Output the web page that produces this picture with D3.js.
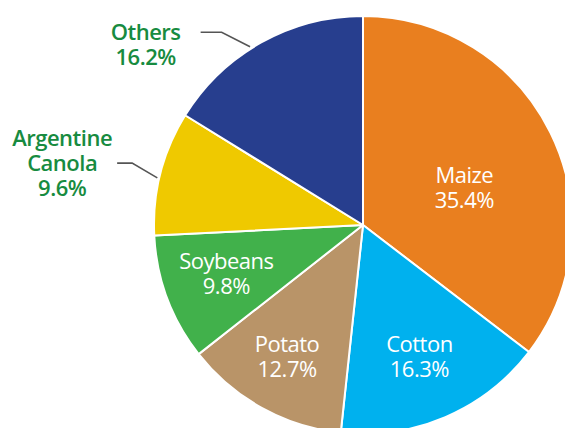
<!DOCTYPE html>
<html>
<head>
<meta charset="utf-8">
<script src="https://cdn.jsdelivr.net/npm/d3@7"></script>
<style>
    html, body { margin: 0; padding: 0; background: #fff; }
    svg { display: block; }
    text { font-family: "Open Sans", "Noto Sans", sans-serif; letter-spacing: -0.5px; }
</style>
</head>
<body>
<svg id="pie-svg" width="565" height="428"></svg>
<script>
// crop names and shares (%), clockwise from 12 o'clock
const crops = ["Maize", "Cotton", "Potato", "Soybeans", "Argentine Canola", "Others"];
const shares = [35.4, 16.3, 12.7, 9.8, 9.6, 16.2];
const shareLabels = ["35.4%", "16.3%", "12.7%", "9.8%", "9.6%", "16.2%"];
const nameLines = [["Maize"], ["Cotton"], ["Potato"], ["Soybeans"], ["Argentine", "Canola"], ["Others"]];
const sliceColors = ["#e97f1f", "#00b1ee", "#b99468", "#41b14b", "#efc900", "#273e8e"];

const SVG_ID = "pie-svg";
const CX = 363, CY = 225, R = 209;
const LINE_H = 25;
const LABEL_GREEN = "#178b40";

// which slices get an outside label with a leader line
const outside = d => d.index >= 4;
// inside label placement: radius + small angle nudge (deg)
const inLabelR = [108, 143, 152, 145];
const inLabelNudge = [6, 0, 1, 1];
// leader lines: angle nudges (deg) for the rim end and the elbow, horizontal run, text y shift
const leaderEnd = { 4: -1.5, 5: -3.2 };
const leaderElbow = { 4: 0.6, 5: -7.1 };
const leaderRun = { 4: 15, 5: 21 };
const leaderTextDy = { 4: 0, 5: 12.5 };

const rad = deg => deg * Math.PI / 180;
const polar = (a, r) => [Math.sin(a) * r, -Math.cos(a) * r];

const data = crops.map((c, i) => ({ name: c, value: shares[i], label: shareLabels[i], lines: nameLines[i], color: sliceColors[i] }));

const pie = d3.pie().sort(null).value(d => d.value);
const arc = d3.arc().innerRadius(0).outerRadius(R);
const arcs = pie(data);

const svg = d3.select(`#${SVG_ID}`);
const g = svg.append("g").attr("transform", `translate(${CX},${CY})`);

// slices
g.selectAll(".slice")
    .data(arcs)
    .enter()
    .append("path")
    .attr("class", "slice")
    .attr("d", arc)
    .style("fill", d => d.data.color)
    .style("stroke", "#fff")
    .style("stroke-width", 2)
    .style("stroke-linejoin", "round");

// one multi-line text block centered on (0, 0) of sel
const drawBlock = (sel, lines, fill, weight) => {
    const first = -(lines.length - 1) * LINE_H / 2 + 8;
    const txt = sel.append("text")
                    .style("text-anchor", "middle")
                    .style("font-size", "22px")
                    .style("font-weight", weight)
                    .style("fill", fill);
    lines.forEach((t, i) => {
        txt.append("tspan")
            .attr("x", 0)
            .attr("y", first + i * LINE_H)
            .text(t);
    });
};

// inside labels
g.selectAll(".in-label")
    .data(arcs.filter(d => !outside(d)))
    .enter()
    .append("g")
    .attr("class", "in-label")
    .attr("transform", d => {
        const mid = (d.startAngle + d.endAngle) / 2 + rad(inLabelNudge[d.index]);
        const [x, y] = polar(mid, inLabelR[d.index]);
        return `translate(${x},${y})`;
    })
    .each(function (d) { drawBlock(d3.select(this), d.data.lines.concat(d.data.label), "#fff", 500); });

// outside labels with leader lines
arcs.filter(outside).forEach(d => {
    const mid = (d.startAngle + d.endAngle) / 2;
    const p0 = polar(mid + rad(leaderEnd[d.index]), R + 2);
    const p1 = polar(mid + rad(leaderElbow[d.index]), R + 30);
    const p2 = [p1[0] - leaderRun[d.index], p1[1]];
    g.append("polyline")
        .attr("points", [p0, p1, p2].map(p => p.join(",")).join(" "))
        .style("fill", "none")
        .style("stroke", "#555")
        .style("stroke-width", 1.6);
    const lg = g.append("g")
                .attr("class", "out-label")
                .attr("transform", `translate(${p2[0] - 55},${p2[1] + leaderTextDy[d.index]})`);
    drawBlock(lg, d.data.lines.concat(d.data.label), LABEL_GREEN, 600);
});
</script>
</body>
</html>
